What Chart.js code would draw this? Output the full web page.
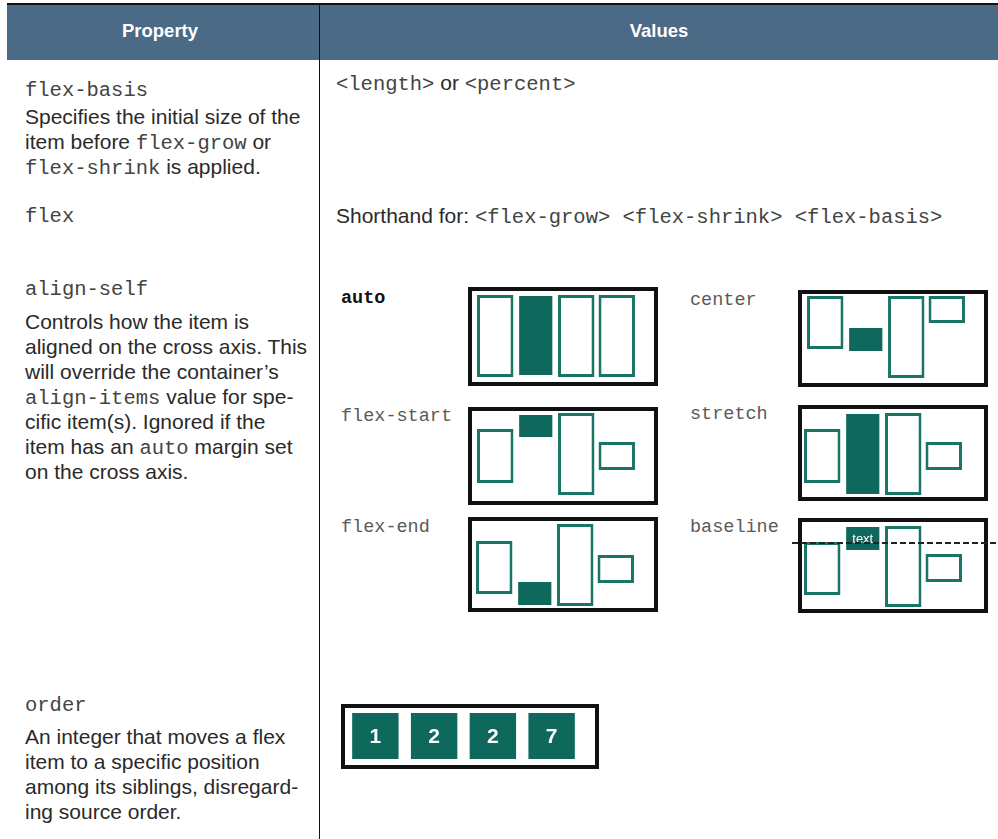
<!DOCTYPE html>
<html>
<head>
<meta charset="utf-8">
<script src="https://cdn.jsdelivr.net/npm/chart.js@4.4.1/dist/chart.umd.min.js"></script>
<style>
  html, body { margin: 0; padding: 0; background: #fff; }
  #page { position: relative; width: 998px; height: 839px; overflow: hidden; }
  .abs { position: absolute; white-space: nowrap; }
  .sans { font-family: "Liberation Sans", Arial, sans-serif; font-size: 21px; line-height: 25px; color: #2a2a2a; }
  .mono { font-family: "Liberation Mono", "Courier New", monospace; font-size: 20.5px; color: #444; }
  .sans .mono { line-height: 0; }
  .lbl { font-family: "Liberation Mono", "Courier New", monospace; font-size: 18.5px; line-height: 20px; color: #5a5a5a; }
  .box { position: absolute; border: 4px solid #111; box-sizing: border-box; }
  .box canvas { display: block; }
  .head { font-family: "Liberation Sans", Arial, sans-serif; font-weight: bold; font-size: 18.5px; color: #fff; text-align: center; line-height: 56px; }
</style>
</head>
<body>
<div id="page">
  <div class="abs" style="left:7px;top:4px;width:991px;height:56px;background:#4a6a86;"></div>
  <div class="abs" style="left:7px;top:3px;width:991px;height:2px;background:#111;"></div>
  <div class="abs head" style="left:7px;top:3px;width:306px;">Property</div>
  <div class="abs head" style="left:320px;top:3px;width:678px;">Values</div>
  <div class="abs" style="left:319px;top:4px;width:1px;height:835px;background:#111;"></div>

  <!-- left column -->
  <div class="abs sans" style="left:25px;top:76px;"><span class="mono">flex-basis</span></div>
  <div class="abs sans" style="left:25px;top:104px;">Specifies the initial size of the<br>item before <span class="mono">flex-grow</span> or<br><span class="mono">flex-shrink</span> is applied.</div>
  <div class="abs sans" style="left:25px;top:202px;"><span class="mono">flex</span></div>
  <div class="abs sans" style="left:25px;top:275px;"><span class="mono">align-self</span></div>
  <div class="abs sans" style="left:25px;top:309px;">Controls how the item is<br>aligned on the cross axis. This<br>will override the container’s<br><span class="mono">align-items</span> value for spe-<br>cific item(s). Ignored if the<br>item has an <span class="mono">auto</span> margin set<br>on the cross axis.</div>
  <div class="abs sans" style="left:25px;top:691px;"><span class="mono">order</span></div>
  <div class="abs sans" style="left:25px;top:724px;">An integer that moves a flex<br>item to a specific position<br>among its siblings, disregard-<br>ing source order.</div>

  <!-- right column -->
  <div class="abs sans" style="left:336px;top:70px;"><span class="mono">&lt;length&gt;</span> or <span class="mono">&lt;percent&gt;</span></div>
  <div class="abs sans" style="left:336px;top:203px;">Shorthand for: <span class="mono">&lt;flex-grow&gt; &lt;flex-shrink&gt; &lt;flex-basis&gt;</span></div>

  <div class="abs lbl" style="left:341px;top:289px;font-weight:bold;color:#111;">auto</div>
  <div class="abs lbl" style="left:341px;top:407px;">flex-start</div>
  <div class="abs lbl" style="left:341px;top:518px;">flex-end</div>
  <div class="abs lbl" style="left:690px;top:291px;">center</div>
  <div class="abs lbl" style="left:690px;top:405px;">stretch</div>
  <div class="abs lbl" style="left:690px;top:518px;">baseline</div>

  <div class="box" id="box-auto" style="left:468px;top:287px;width:190px;height:99px;"><canvas id="c-auto"></canvas></div>
  <div class="box" id="box-start" style="left:468px;top:407px;width:190px;height:98px;"><canvas id="c-start"></canvas></div>
  <div class="box" id="box-end" style="left:468px;top:517px;width:190px;height:95px;"><canvas id="c-end"></canvas></div>
  <div class="box" id="box-center" style="left:798px;top:290px;width:190px;height:97px;"><canvas id="c-center"></canvas></div>
  <div class="box" id="box-stretch" style="left:798px;top:405px;width:190px;height:96px;"><canvas id="c-stretch"></canvas></div>
  <div class="box" id="box-baseline" style="left:798px;top:518px;width:190px;height:95px;"><canvas id="c-baseline"></canvas></div>
  <div class="abs" style="left:792px;top:542px;width:206px;height:1.5px;background:repeating-linear-gradient(to right,#222 0 6px,transparent 6px 9px);"></div>

  <div class="box" id="box-order" style="left:341px;top:704px;width:258px;height:65px;"><canvas id="c-order"></canvas></div>
</div>

<script>
// Items in every align-self diagram
const itemLabels = ['item 1', 'item 2', 'item 3', 'item 4'];

// [top, bottom] of each item, measured from the inside top of its container
const autoOutline = [[4, 86], null, [4, 86], [4, 86]];
const autoFilled = [null, [5, 84], null, null];

const startOutline = [[18, 72], null, [2, 84], [31, 59]];
const startFilled = [null, [4, 26], null, null];

const endOutline = [[20, 73], null, [3, 85], [34, 62]];
const endFilled = [null, [61, 84], null, null];

const centerOutline = [[2, 55], null, [2, 84], [2, 29]];
const centerFilled = [null, [34, 57], null, null];

const stretchOutline = [[20, 74], null, [4, 86], [33, 61]];
const stretchFilled = [null, [5, 85], null, null];

const baselineOutline = [[20, 73], null, [4, 85], [32, 60]];
const baselineFilled = [null, [5, 28], null, null];
const baselineText = [null, 'text', null, null];

// order diagram
const orderLabels = ['1', '2', '2', '7'];
const orderSpans = [[5, 51], [5, 51], [5, 51], [5, 51]];

const TEAL = '#0e695c';
const TEAL_LINE = '#1a7567';

// writes a label in the middle of each bar
const barText = {
    id: 'barText',
    afterDatasetsDraw(chart, args, opts) {
        if (!opts.labels) return;
        const meta = chart.getDatasetMeta(opts.dataset || 0);
        const c = chart.ctx;
        c.save();
        c.fillStyle = '#fff';
        c.font = opts.font;
        c.textAlign = 'center';
        c.textBaseline = 'middle';
        meta.data.forEach((bar, i) => {
            const t = opts.labels[i];
            if (!t) return;
            const { x, y, base } = bar.getProps(['x', 'y', 'base'], true);
            c.fillText(t, x, (y + base) / 2 + (opts.dy || 0));
        });
        c.restore();
    }
};

const sizeCanvas = (id) => {
    const canvas = document.getElementById(id);
    const box = canvas.parentElement;
    canvas.width = box.clientWidth;
    canvas.height = box.clientHeight;
    canvas.style.width = box.clientWidth + 'px';
    canvas.style.height = box.clientHeight + 'px';
    return canvas;
};

const drawDiagram = (id, outline, filled, padLeft, padRight, textLabels) => {
    const canvas = sizeCanvas(id);
    new Chart(canvas.getContext('2d'), {
        type: 'bar',
        data: {
            labels: itemLabels,
            datasets: [
                {
                    data: outline,
                    backgroundColor: '#fff',
                    borderColor: TEAL_LINE,
                    borderWidth: 3,
                    borderSkipped: false,
                    barPercentage: 0.9,
                    categoryPercentage: 1,
                    grouped: false
                },
                {
                    data: filled,
                    backgroundColor: TEAL,
                    borderWidth: 0,
                    barPercentage: 0.82,
                    categoryPercentage: 1,
                    grouped: false
                }
            ]
        },
        options: {
            responsive: false,
            animation: false,
            devicePixelRatio: 1,
            layout: { padding: { left: padLeft, right: padRight, top: 0, bottom: 0 } },
            plugins: {
                legend: { display: false },
                tooltip: { enabled: false },
                barText: { labels: textLabels, dataset: 1, font: '13px "Liberation Sans", Arial, sans-serif', dy: 1 }
            },
            scales: {
                x: { display: false },
                y: { display: false, min: 0, max: canvas.height, reverse: true }
            }
        },
        plugins: [barText]
    });
};

drawDiagram('c-auto', autoOutline, autoFilled, 3, 17);
drawDiagram('c-start', startOutline, startFilled, 3, 17);
drawDiagram('c-end', endOutline, endFilled, 2, 18);
drawDiagram('c-center', centerOutline, centerFilled, 3, 17);
drawDiagram('c-stretch', stretchOutline, stretchFilled, 0, 20);
drawDiagram('c-baseline', baselineOutline, baselineFilled, 0, 20, baselineText);

// order
const orderCanvas = sizeCanvas('c-order');
new Chart(orderCanvas.getContext('2d'), {
    type: 'bar',
    data: {
        labels: orderLabels,
        datasets: [{
            data: orderSpans,
            backgroundColor: TEAL,
            borderWidth: 0,
            barPercentage: 0.79,
            categoryPercentage: 1
        }]
    },
    options: {
        responsive: false,
        animation: false,
        devicePixelRatio: 1,
        layout: { padding: { left: 1, right: 14, top: 0, bottom: 0 } },
        plugins: {
            legend: { display: false },
            tooltip: { enabled: false },
            barText: { labels: orderLabels, dataset: 0, font: 'bold 21px "Liberation Sans", Arial, sans-serif', dy: 1 }
        },
        scales: {
            x: { display: false },
            y: { display: false, min: 0, max: orderCanvas.height, reverse: true }
        }
    },
    plugins: [barText]
});
</script>
</body>
</html>
